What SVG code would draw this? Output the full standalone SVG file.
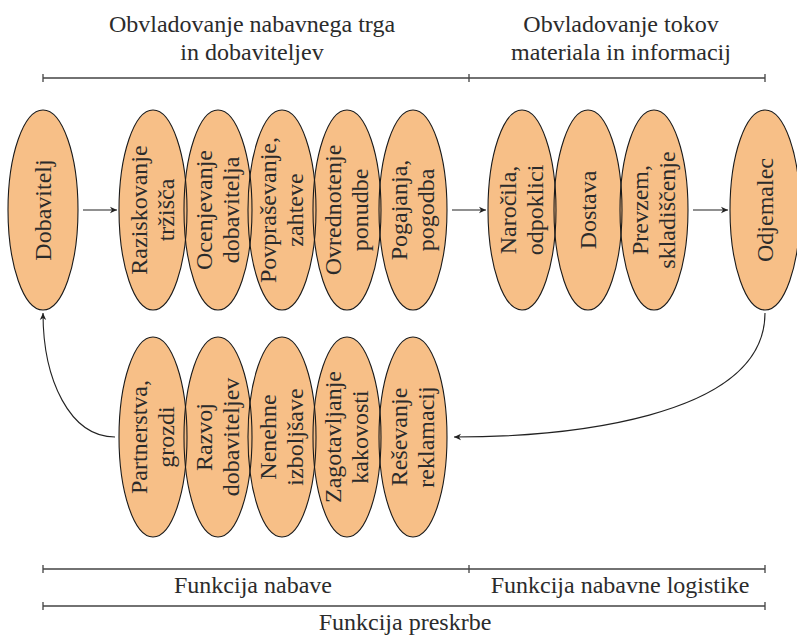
<svg xmlns="http://www.w3.org/2000/svg" width="797" height="636" viewBox="0 0 797 636">
  <style>
    .txt { font-family: "Liberation Serif", "DejaVu Serif", serif; font-size: 24px; fill: #2b2b2b; }
    .mid { text-anchor: middle; }
    .fill { fill: #F7BF87; stroke: none; }
    .edge { fill: none; stroke: #1a1a1a; stroke-width: 1.1; }
    .bracket { fill: none; stroke: #444; stroke-width: 1.3; }
    .conn { fill: none; stroke: #222; stroke-width: 1.1; }
  </style>
  <defs>
    <marker id="arrow" viewBox="-8 -4 9 8" refX="0" refY="0" markerWidth="9" markerHeight="8" markerUnits="userSpaceOnUse" orient="auto">
      <path d="M0,0 L-7,-3.2 L-5,0 L-7,3.2 Z" fill="#222"/>
    </marker>
  </defs>

  <!-- top brackets and headings -->
  <g id="top-scale">
    <path class="bracket" d="M43,78 H765 M43,74 V82 M469,74 V82 M765,74 V82"/>
    <text class="txt mid" x="252" y="32">Obvladovanje nabavnega trga</text>
    <text class="txt mid" x="252" y="60">in dobaviteljev</text>
    <text class="txt mid" x="621" y="32">Obvladovanje tokov</text>
    <text class="txt mid" x="621" y="60">materiala in informacij</text>
  </g>

  <!-- ellipse fills underneath so every outline stays visible where they overlap -->
  <g id="fills">
    <ellipse class="fill" cx="43" cy="210" rx="35" ry="100"/>
    <ellipse class="fill" cx="153" cy="210" rx="34" ry="100"/>
    <ellipse class="fill" cx="218" cy="210" rx="34" ry="100"/>
    <ellipse class="fill" cx="282" cy="210" rx="34" ry="100"/>
    <ellipse class="fill" cx="347" cy="210" rx="34" ry="100"/>
    <ellipse class="fill" cx="413" cy="210" rx="34" ry="100"/>
    <ellipse class="fill" cx="522" cy="210" rx="34" ry="100"/>
    <ellipse class="fill" cx="588" cy="210" rx="34" ry="100"/>
    <ellipse class="fill" cx="654" cy="210" rx="34" ry="100"/>
    <ellipse class="fill" cx="765" cy="210" rx="35" ry="100"/>
    <ellipse class="fill" cx="153" cy="437" rx="34" ry="100"/>
    <ellipse class="fill" cx="218" cy="437" rx="34" ry="100"/>
    <ellipse class="fill" cx="282" cy="437" rx="34" ry="100"/>
    <ellipse class="fill" cx="347" cy="437" rx="34" ry="100"/>
    <ellipse class="fill" cx="413" cy="437" rx="34" ry="100"/>
  </g>

  <!-- top row -->
  <g id="dobavitelj">
    <ellipse class="edge" cx="43" cy="210" rx="35" ry="100"/>
    <text class="txt mid" transform="translate(43,210) rotate(-90)" x="0" y="8">Dobavitelj</text>
  </g>
  <g id="raziskovanje">
    <ellipse class="edge" cx="153" cy="210" rx="34" ry="100"/>
    <text class="txt mid" transform="translate(153,210) rotate(-90)"><tspan x="0" y="-6">Raziskovanje</tspan><tspan x="0" y="21">tržišča</tspan></text>
  </g>
  <g id="ocenjevanje">
    <ellipse class="edge" cx="218" cy="210" rx="34" ry="100"/>
    <text class="txt mid" transform="translate(218,210) rotate(-90)"><tspan x="0" y="-6">Ocenjevanje</tspan><tspan x="0" y="21">dobavitelja</tspan></text>
  </g>
  <g id="povprasevanje">
    <ellipse class="edge" cx="282" cy="210" rx="34" ry="100"/>
    <text class="txt mid" transform="translate(282,210) rotate(-90)"><tspan x="0" y="-6">Povpraševanje,</tspan><tspan x="0" y="21">zahteve</tspan></text>
  </g>
  <g id="ovrednotenje">
    <ellipse class="edge" cx="347" cy="210" rx="34" ry="100"/>
    <text class="txt mid" transform="translate(347,210) rotate(-90)"><tspan x="0" y="-6">Ovrednotenje</tspan><tspan x="0" y="21">ponudbe</tspan></text>
  </g>
  <g id="pogajanja">
    <ellipse class="edge" cx="413" cy="210" rx="34" ry="100"/>
    <text class="txt mid" transform="translate(413,210) rotate(-90)"><tspan x="0" y="-6">Pogajanja,</tspan><tspan x="0" y="21">pogodba</tspan></text>
  </g>
  <g id="narocila">
    <ellipse class="edge" cx="522" cy="210" rx="34" ry="100"/>
    <text class="txt mid" transform="translate(522,210) rotate(-90)"><tspan x="0" y="-6">Naročila,</tspan><tspan x="0" y="21">odpoklici</tspan></text>
  </g>
  <g id="dostava">
    <ellipse class="edge" cx="588" cy="210" rx="34" ry="100"/>
    <text class="txt mid" transform="translate(588,210) rotate(-90)" x="0" y="8">Dostava</text>
  </g>
  <g id="prevzem">
    <ellipse class="edge" cx="654" cy="210" rx="34" ry="100"/>
    <text class="txt mid" transform="translate(654,210) rotate(-90)"><tspan x="0" y="-6">Prevzem,</tspan><tspan x="0" y="21">skladiščenje</tspan></text>
  </g>
  <g id="odjemalec">
    <ellipse class="edge" cx="765" cy="210" rx="35" ry="100"/>
    <text class="txt mid" transform="translate(765,210) rotate(-90)" x="0" y="8">Odjemalec</text>
  </g>

  <!-- bottom row -->
  <g id="partnerstva">
    <ellipse class="edge" cx="153" cy="437" rx="34" ry="100"/>
    <text class="txt mid" transform="translate(153,437) rotate(-90)"><tspan x="0" y="-6">Partnerstva,</tspan><tspan x="0" y="21">grozdi</tspan></text>
  </g>
  <g id="razvoj">
    <ellipse class="edge" cx="218" cy="437" rx="34" ry="100"/>
    <text class="txt mid" transform="translate(218,437) rotate(-90)"><tspan x="0" y="-6">Razvoj</tspan><tspan x="0" y="21">dobaviteljev</tspan></text>
  </g>
  <g id="nenehne">
    <ellipse class="edge" cx="282" cy="437" rx="34" ry="100"/>
    <text class="txt mid" transform="translate(282,437) rotate(-90)"><tspan x="0" y="-6">Nenehne</tspan><tspan x="0" y="21">izboljšave</tspan></text>
  </g>
  <g id="zagotavljanje">
    <ellipse class="edge" cx="347" cy="437" rx="34" ry="100"/>
    <text class="txt mid" transform="translate(347,437) rotate(-90)"><tspan x="0" y="-6">Zagotavljanje</tspan><tspan x="0" y="21">kakovosti</tspan></text>
  </g>
  <g id="resevanje">
    <ellipse class="edge" cx="413" cy="437" rx="34" ry="100"/>
    <text class="txt mid" transform="translate(413,437) rotate(-90)"><tspan x="0" y="-6">Reševanje</tspan><tspan x="0" y="21">reklamacij</tspan></text>
  </g>

  <!-- connectors -->
  <g id="connectors">
    <path class="conn" d="M83,210 H117" marker-end="url(#arrow)"/>
    <path class="conn" d="M452,210 H486" marker-end="url(#arrow)"/>
    <path class="conn" d="M693,210 H728" marker-end="url(#arrow)"/>
    <path class="conn" d="M765,313 C765,420 560,437 454,437" marker-end="url(#arrow)"/>
    <path class="conn" d="M115,437 C70,437 43,380 43,313" marker-end="url(#arrow)"/>
  </g>

  <!-- bottom brackets and labels -->
  <g id="bottom-scale">
    <path class="bracket" d="M43,569 H765 M43,565 V573 M469,565 V573 M765,565 V573"/>
    <text class="txt mid" x="253" y="593">Funkcija nabave</text>
    <text class="txt mid" x="620" y="593">Funkcija nabavne logistike</text>
    <path class="bracket" d="M43,606 H765 M43,602 V610 M765,602 V610"/>
    <text class="txt mid" x="405" y="630">Funkcija preskrbe</text>
  </g>
</svg>
